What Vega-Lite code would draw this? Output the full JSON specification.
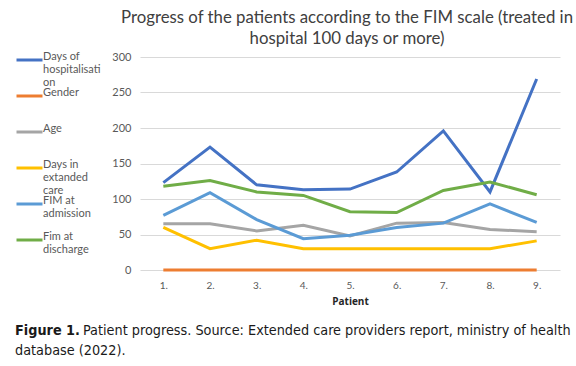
{
  "$schema": "https://vega.github.io/schema/vega-lite/v6.json",
  "padding": {"left": 15, "top": 10, "right": 0, "bottom": 0},
  "spacing": 18,
  "config": {"view": {"stroke": null}, "font": "Lato"},
  "datasets": {
    "fim": [
      {"patient": "1.", "series": "Days of hospitalisation", "value": 123},
      {"patient": "2.", "series": "Days of hospitalisation", "value": 173},
      {"patient": "3.", "series": "Days of hospitalisation", "value": 120},
      {"patient": "4.", "series": "Days of hospitalisation", "value": 113},
      {"patient": "5.", "series": "Days of hospitalisation", "value": 114},
      {"patient": "6.", "series": "Days of hospitalisation", "value": 138},
      {"patient": "7.", "series": "Days of hospitalisation", "value": 196},
      {"patient": "8.", "series": "Days of hospitalisation", "value": 110},
      {"patient": "9.", "series": "Days of hospitalisation", "value": 269},
      {"patient": "1.", "series": "Gender", "value": 0},
      {"patient": "2.", "series": "Gender", "value": 0},
      {"patient": "3.", "series": "Gender", "value": 0},
      {"patient": "4.", "series": "Gender", "value": 0},
      {"patient": "5.", "series": "Gender", "value": 0},
      {"patient": "6.", "series": "Gender", "value": 0},
      {"patient": "7.", "series": "Gender", "value": 0},
      {"patient": "8.", "series": "Gender", "value": 0},
      {"patient": "9.", "series": "Gender", "value": 0},
      {"patient": "1.", "series": "Age", "value": 65},
      {"patient": "2.", "series": "Age", "value": 65},
      {"patient": "3.", "series": "Age", "value": 55},
      {"patient": "4.", "series": "Age", "value": 63},
      {"patient": "5.", "series": "Age", "value": 48},
      {"patient": "6.", "series": "Age", "value": 66},
      {"patient": "7.", "series": "Age", "value": 67},
      {"patient": "8.", "series": "Age", "value": 57},
      {"patient": "9.", "series": "Age", "value": 54},
      {"patient": "1.", "series": "Days in extanded care", "value": 60},
      {"patient": "2.", "series": "Days in extanded care", "value": 30},
      {"patient": "3.", "series": "Days in extanded care", "value": 42},
      {"patient": "4.", "series": "Days in extanded care", "value": 30},
      {"patient": "5.", "series": "Days in extanded care", "value": 30},
      {"patient": "6.", "series": "Days in extanded care", "value": 30},
      {"patient": "7.", "series": "Days in extanded care", "value": 30},
      {"patient": "8.", "series": "Days in extanded care", "value": 30},
      {"patient": "9.", "series": "Days in extanded care", "value": 41},
      {"patient": "1.", "series": "FIM at admission", "value": 77},
      {"patient": "2.", "series": "FIM at admission", "value": 109},
      {"patient": "3.", "series": "FIM at admission", "value": 71},
      {"patient": "4.", "series": "FIM at admission", "value": 44},
      {"patient": "5.", "series": "FIM at admission", "value": 49},
      {"patient": "6.", "series": "FIM at admission", "value": 60},
      {"patient": "7.", "series": "FIM at admission", "value": 66},
      {"patient": "8.", "series": "FIM at admission", "value": 93},
      {"patient": "9.", "series": "FIM at admission", "value": 67},
      {"patient": "1.", "series": "Fim at discharge", "value": 118},
      {"patient": "2.", "series": "Fim at discharge", "value": 126},
      {"patient": "3.", "series": "Fim at discharge", "value": 110},
      {"patient": "4.", "series": "Fim at discharge", "value": 105},
      {"patient": "5.", "series": "Fim at discharge", "value": 82},
      {"patient": "6.", "series": "Fim at discharge", "value": 81},
      {"patient": "7.", "series": "Fim at discharge", "value": 112},
      {"patient": "8.", "series": "Fim at discharge", "value": 124},
      {"patient": "9.", "series": "Fim at discharge", "value": 106}
    ]
  },
  "vconcat": [
    {
      "width": 420,
      "height": 213,
      "data": {"name": "fim"},
      "title": {
        "text": ["Progress of the patients according to the FIM scale (treated in", "hospital 100 days or more)"],
        "fontSize": 16.8,
        "font": "Lato",
        "fontWeight": "normal",
        "color": "#404040",
        "lineHeight": 21,
        "anchor": "middle",
        "frame": "group",
        "offset": 3,
        "dx": -3
      },
      "mark": {"type": "line", "strokeWidth": 3},
      "encoding": {
        "x": {
          "field": "patient",
          "type": "ordinal",
          "scale": {"type": "point", "padding": 0.5},
          "axis": {
            "title": "Patient",
            "titleFont": "Open Sans",
            "titleFontSize": 10,
            "titleFontWeight": "bold",
            "titleColor": "#262626",
            "titlePadding": 6,
            "labelAngle": 0,
            "labelFont": "Lato",
            "labelFontSize": 10,
            "labelColor": "#595959",
            "labelPadding": 10,
            "ticks": false,
            "domain": false,
            "grid": false
          }
        },
        "y": {
          "field": "value",
          "type": "quantitative",
          "scale": {"domain": [0, 300]},
          "axis": {
            "title": null,
            "values": [0, 50, 100, 150, 200, 250, 300],
            "labelFont": "Lato",
            "labelFontSize": 11,
            "labelColor": "#595959",
            "labelPadding": 9,
            "ticks": false,
            "domain": false,
            "gridColor": "#d9d9d9",
            "gridWidth": 1
          }
        },
        "color": {
          "field": "series",
          "type": "nominal",
          "scale": {
            "domain": ["Days of hospitalisation", "Gender", "Age", "Days in extanded care", "FIM at admission", "Fim at discharge"],
            "range": ["#4472C4", "#ED7D31", "#A5A5A5", "#FFC000", "#5B9BD5", "#70AD47"]
          },
          "legend": {
            "orient": "none",
            "legendX": -125,
            "legendY": -5,
            "title": null,
            "symbolType": "M-1,0H3",
            "symbolSize": 169,
            "symbolStrokeWidth": 3,
            "symbolFillColor": "transparent",
            "labelFont": "Lato",
            "labelFontSize": 11,
            "labelColor": "#595959",
            "labelBaseline": "alphabetic",
            "labelOffset": 12,
            "labelLimit": 0,
            "gridAlign": "all",
            "rowPadding": -1,
            "labelExpr": "datum.label == 'Days of hospitalisation' ? ['Days of','hospitalisati','on'] : datum.label == 'Days in extanded care' ? ['Days in','extanded','care'] : datum.label == 'FIM at admission' ? ['FIM at','admission'] : datum.label == 'Fim at discharge' ? ['Fim at','discharge'] : datum.label"
          }
        }
      }
    },
    {
      "spacing": -6,
      "vconcat": [
        {
          "spacing": -58,
          "hconcat": [
            {
              "width": 1,
              "height": 1,
              "data": {"values": [{}]},
              "mark": {"type": "text", "text": ""},
              "title": {"text": "Figure 1.", "font": "DejaVu Sans Condensed, Liberation Sans", "fontSize": 14.3, "fontWeight": "bold", "color": "#1a1a1a", "anchor": "start", "offset": 0, "dx": -125}
            },
            {
              "width": 1,
              "height": 1,
              "data": {"values": [{}]},
              "mark": {"type": "text", "text": ""},
              "title": {"text": "Patient progress. Source: Extended care providers report, ministry of health", "font": "DejaVu Sans Condensed, Liberation Sans", "fontSize": 14.3, "fontWeight": "normal", "color": "#1a1a1a", "anchor": "start", "offset": 0, "dx": -125}
            }
          ]
        },
        {
          "width": 1,
          "height": 1,
          "data": {"values": [{}]},
          "mark": {"type": "text", "text": ""},
          "title": {"text": "database (2022).", "font": "DejaVu Sans Condensed, Liberation Sans", "fontSize": 14.3, "fontWeight": "normal", "color": "#1a1a1a", "anchor": "start", "offset": 0, "dx": -125}
        }
      ]
    }
  ]
}
